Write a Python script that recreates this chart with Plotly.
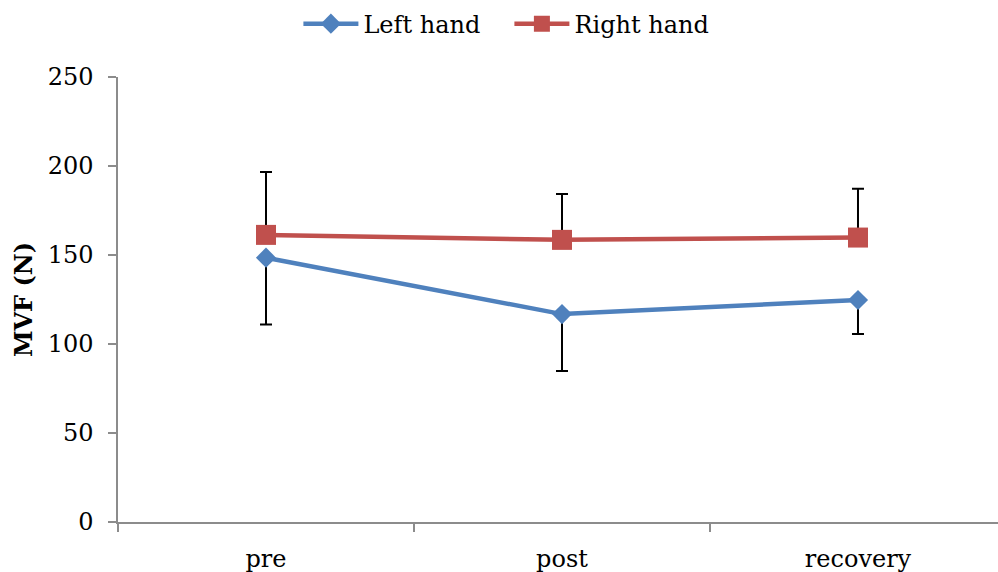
import plotly.graph_objects as go

# Measurement phases
phases = ["pre", "post", "recovery"]

# Mean maximal voluntary force (N) and standard deviations
left_mean = [148.5, 116.8, 124.7]
left_sd = [37.5, 32.0, 19.1]
right_mean = [161.3, 158.5, 159.8]
right_sd = [35.3, 25.7, 27.4]

zeros = [0, 0, 0]

FONT = "DejaVu Serif"
AXIS_GREY = "#8c8c8c"

fig = go.Figure()

fig.add_trace(go.Scatter(
    x=phases, y=left_mean, name="Left hand", mode="lines+markers",
    line=dict(color="#4F81BD", width=4.5),
    marker=dict(symbol="diamond", size=15.5, color="#4F81BD"),
    error_y=dict(type="data", symmetric=False, array=zeros, arrayminus=left_sd,
                 color="black", thickness=2, width=6),
))

fig.add_trace(go.Scatter(
    x=phases, y=right_mean, name="Right hand", mode="lines+markers",
    line=dict(color="#C0504D", width=4.5),
    marker=dict(symbol="square", size=20, color="#C0504D"),
    error_y=dict(type="data", symmetric=False, array=right_sd, arrayminus=zeros,
                 color="black", thickness=2, width=6),
))

fig.update_layout(
    width=998, height=572,
    margin=dict(l=118, r=0, t=77, b=50),
    paper_bgcolor="white", plot_bgcolor="white",
    font=dict(family=FONT, size=24, color="black"),
    showlegend=True,
    legend=dict(orientation="h", x=0.205, xanchor="left", y=1.119, yanchor="middle",
                font=dict(family=FONT, size=24), itemwidth=55, entrywidth=141,
                traceorder="normal"),
    xaxis=dict(
        type="category", range=[-0.5, 2.473],
        showline=True, linecolor=AXIS_GREY, linewidth=1.5,
        ticks="outside", tickson="boundaries", ticklen=8, tickcolor=AXIS_GREY, tickwidth=1.5,
        ticklabelstandoff=14, showgrid=False, zeroline=False,
    ),
    yaxis=dict(
        range=[0, 250], tickvals=[0, 50, 100, 150, 200, 250],
        showline=True, linecolor=AXIS_GREY, linewidth=1.5,
        ticks="outside", ticklen=8, tickcolor=AXIS_GREY, tickwidth=1.5,
        ticklabelstandoff=10, showgrid=False, zeroline=False,
        title=dict(text="<b>MVF (N)</b>", font=dict(family=FONT, size=24), standoff=8),
    ),
)

fig.write_html("out.html")
